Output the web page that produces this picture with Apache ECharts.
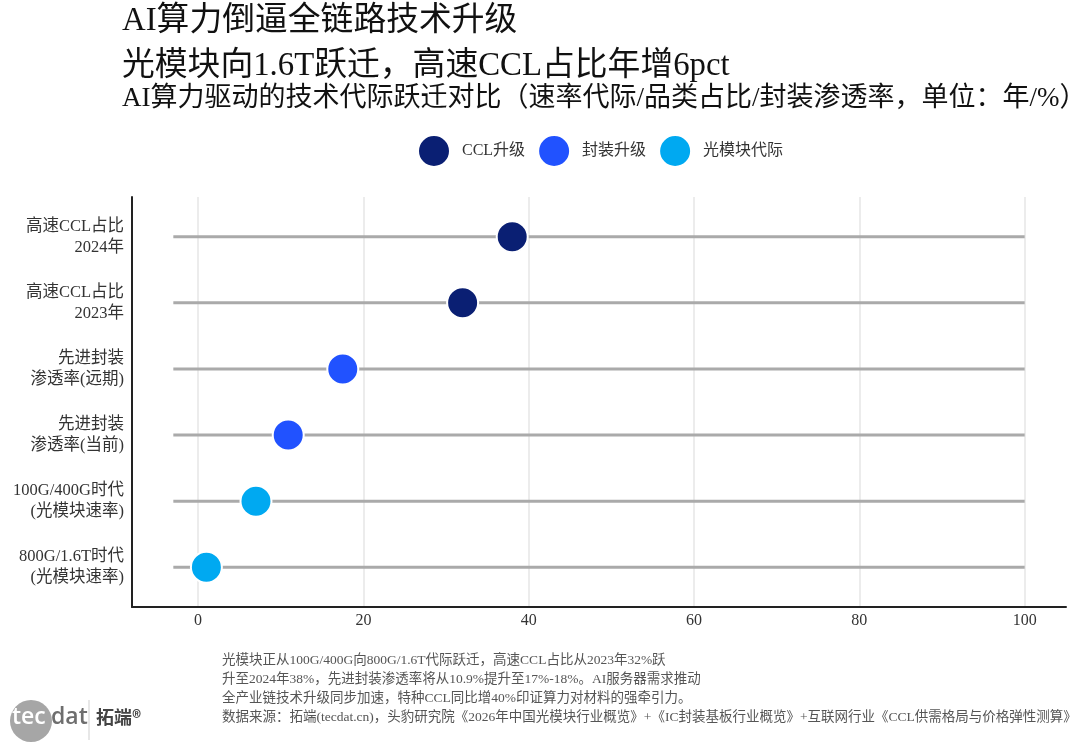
<!DOCTYPE html>
<html>
<head>
<meta charset="utf-8">
<title>AI算力倒逼全链路技术升级</title>
<script src="https://cdn.jsdelivr.net/npm/echarts@6/dist/echarts.min.js"></script>
<style>
  html, body { margin: 0; padding: 0; background: #fff; }
  #chart_main { width: 1076px; height: 753px; }
</style>
</head>
<body>
<div id="chart_main"></div>
<script>
  // 数据（自上而下）
  const categories = [
    '高速CCL占比\n2024年',
    '高速CCL占比\n2023年',
    '先进封装\n渗透率(远期)',
    '先进封装\n渗透率(当前)',
    '100G/400G时代\n(光模块速率)',
    '800G/1.6T时代\n(光模块速率)'
  ]
  const values = [38, 32, 17.5, 10.9, 7, 1]
  const groups = ['CCL升级', 'CCL升级', '封装升级', '封装升级', '光模块代际', '光模块代际']
  const groupNames = ['CCL升级', '封装升级', '光模块代际']
  const xTicks = [0, 20, 40, 60, 80, 100]
  const segStart = -3
  const segEnd = 100

  const colors = ['#0A1F73', '#2152FF', '#00A9F1']
  const font = "'Liberation Serif', 'Noto Sans CJK SC', serif"

  let chart = echarts.init(document.getElementById('chart_main'))

  let rows = categories.map((c, i) => i + 1)

  let scatterSeries = groupNames.map((g, gi) => {
    return {
      name: g,
      type: 'scatter',
      symbol: 'circle',
      symbolSize: 31,
      z: 5,
      itemStyle: {
        color: colors[gi],
        opacity: 1,
        borderColor: '#fff',
        borderWidth: 2
      },
      data: values.map((v, i) => groups[i] === g ? [v, rows[i]] : null).filter((d) => d !== null)
    }
  })

  let options = {
    backgroundColor: '#fff',
    animation: false,
    textStyle: { fontFamily: font },
    title: [
      {
        text: 'AI算力倒逼全链路技术升级',
        left: 117,
        top: 0,
        textStyle: { fontFamily: font, fontSize: 32.8, fontWeight: 'normal', color: '#111' }
      },
      {
        text: '光模块向1.6T跃迁，高速CCL占比年增6pct',
        left: 117,
        top: 45,
        textStyle: { fontFamily: font, fontSize: 32.8, fontWeight: 'normal', color: '#111' }
      },
      {
        text: 'AI算力驱动的技术代际跃迁对比（速率代际/品类占比/封装渗透率，单位：年/%）',
        left: 117,
        top: 80,
        textStyle: { fontFamily: font, fontSize: 27, fontWeight: 'normal', color: '#111' }
      }
    ],
    legend: {
      data: groupNames,
      left: 412,
      top: 129,
      icon: 'circle',
      itemWidth: 32,
      itemHeight: 32,
      itemGap: 12,
      textStyle: { fontFamily: font, fontSize: 16, color: '#333', padding: [0, 0, 0, 7] }
    },
    grid: {
      left: 132,
      right: 10,
      top: 197,
      bottom: 146,
      containLabel: false
    },
    xAxis: {
      type: 'value',
      min: -8,
      max: 105,
      axisLine: { show: true, onZero: false, lineStyle: { color: '#222', width: 2 } },
      axisTick: { show: false, customValues: xTicks },
      axisLabel: {
        customValues: xTicks,
        margin: 6,
        fontFamily: font,
        fontSize: 16,
        color: '#333'
      },
      splitLine: { show: true, lineStyle: { color: '#e6e6e6', width: 1.5 } }
    },
    yAxis: {
      type: 'value',
      min: 0.4,
      max: 6.6,
      inverse: true,
      axisLine: { show: true, onZero: false, lineStyle: { color: '#222', width: 2 } },
      axisTick: { show: false, customValues: rows },
      axisLabel: {
        customValues: rows,
        margin: 8,
        fontFamily: font,
        fontSize: 16.5,
        lineHeight: 21,
        color: '#333',
        formatter: (v) => categories[Math.round(v) - 1]
      },
      splitLine: { show: false }
    },
    series: [
      {
        name: 'segment',
        type: 'custom',
        z: 2,
        silent: true,
        renderItem: function (params, api) {
          let y = api.value(1)
          let p1 = api.coord([api.value(0), y])
          let p2 = api.coord([api.value(2), y])
          return {
            type: 'line',
            shape: { x1: p1[0], y1: p1[1], x2: p2[0], y2: p2[1] },
            style: { stroke: '#aaaaaa', lineWidth: 3 }
          }
        },
        encode: { x: [0, 2], y: 1 },
        data: rows.map((r) => [segStart, r, segEnd])
      }
    ].concat(scatterSeries),
    graphic: [
      {
        type: 'text',
        left: 222,
        top: 651,
        style: {
          text: '光模块正从100G/400G向800G/1.6T代际跃迁，高速CCL占比从2023年32%跃\n升至2024年38%，先进封装渗透率将从10.9%提升至17%-18%。AI服务器需求推动\n全产业链技术升级同步加速，特种CCL同比增40%印证算力对材料的强牵引力。\n数据来源：拓端(tecdat.cn)，头豹研究院《2026年中国光模块行业概览》+《IC封装基板行业概览》+互联网行业《CCL供需格局与价格弹性测算》',
          font: "13.5px " + font,
          lineHeight: 19,
          fill: '#555'
        }
      },
      {
        type: 'circle',
        shape: { cx: 31, cy: 721, r: 21 },
        style: { fill: '#a6a6a6' }
      },
      {
        type: 'text',
        left: 12,
        top: 706,
        style: { text: 'tec', font: "600 23px 'Open Sans', sans-serif", fill: '#fff' }
      },
      {
        type: 'text',
        left: 51,
        top: 706,
        style: { text: 'dat', font: "600 23px 'Open Sans', sans-serif", fill: '#6e6e6e' }
      },
      {
        type: 'line',
        shape: { x1: 89, y1: 700, x2: 89, y2: 740 },
        style: { stroke: '#cfcfcf', lineWidth: 1 }
      },
      {
        type: 'text',
        left: 96,
        top: 708,
        style: { text: '拓端®', font: "bold 18px 'Noto Sans CJK SC', sans-serif", fill: '#444' }
      }
    ]
  }

  chart.setOption(options)
</script>
</body>
</html>
